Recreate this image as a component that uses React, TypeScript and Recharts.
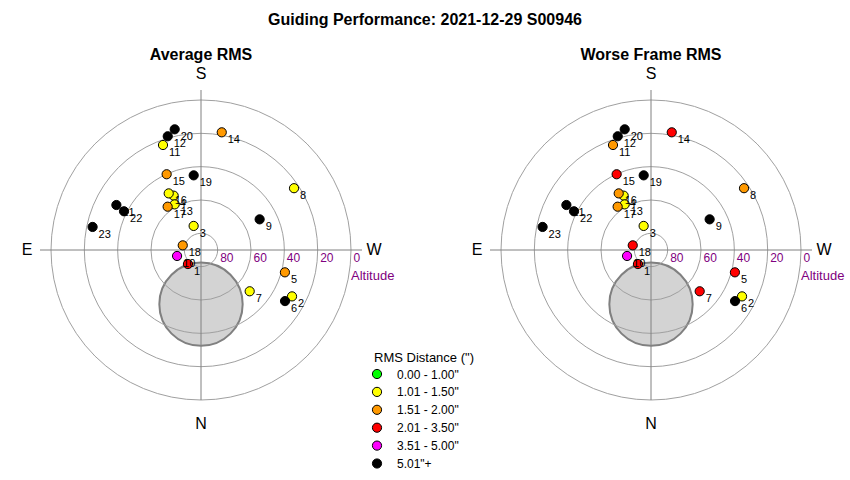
import React from 'react';
import { ScatterChart, Scatter, XAxis, YAxis } from 'recharts';

// ---- data ----
const FRAME_IDS = [1, 2, 3, 4, 5, 6, 7, 8, 9, 10, 11, 12, 13, 14, 15, 16, 17, 18, 19, 20, 21, 22, 23];
const ALTITUDE = [78.5, 28.7, 74.9, 53.5, 37.9, 31.0, 51.7, 23.0, 50.3, 75.2, 23.0, 18.9, 58.4, 18.3, 40.1, 50.9, 57.2, 78.7, 45.0, 15.9, 32.5, 38.3, 23.5];
const AZIMUTH = [42.9, 297.0, 163.0, 153.3, 284.9, 301.3, 310.3, 236.4, 242.4, 76.0, 160.1, 163.7, 150.0, 190.0, 155.6, 150.3, 142.4, 104.3, 174.4, 167.7, 118.0, 116.7, 102.0];
// RMS class index (into RMS_BINS) per frame
const AVG_RMS_CLASS = [3, 1, 1, 1, 2, 5, 1, 1, 5, 4, 1, 5, 1, 2, 2, 1, 2, 2, 5, 5, 5, 5, 5];
const WORST_RMS_CLASS = [3, 1, 1, 1, 3, 5, 3, 2, 5, 4, 2, 5, 1, 3, 3, 2, 2, 3, 5, 5, 5, 5, 5];

const RMS_BINS = ['0.00 - 1.00"', '1.01 - 1.50"', '1.51 - 2.00"', '2.01 - 3.50"', '3.51 - 5.00"', '5.01"+'];
const BIN_COLORS = ['#00ff00', '#ffff00', '#ff9900', '#ff0000', '#ff00ff', '#000000'];

const ALT_RINGS = [80, 60, 40, 20, 0];
const ALT_TICKS = [80, 60, 40, 20, 0];
const OBSTRUCTION_ALT = [57.5];
const OBSTRUCTION_AZ = [0];
const OBSTRUCTION_RADIUS = [25];

// ---- layout ----
const CHART_W = 400;
const CHART_H = 480;
const DOMAIN = 105;
const PLOT = 350;
const PX = PLOT / (2 * DOMAIN);
const MARGIN = { top: 75, right: 24, bottom: 55, left: 26 };
const FONT = '"Liberation Sans", Arial, Helvetica, sans-serif';
const PURPLE = '#800080';

const toXY = (alt: number, az: number) => {
  const zd = 90 - alt;
  const a = (az * Math.PI) / 180;
  return { x: -zd * Math.sin(a), y: -zd * Math.cos(a) };
};

const ringData = ALT_RINGS.map((alt) => ({ x: 0, y: 0, zd: 90 - alt }));
const tickData = ALT_TICKS.map((alt) => ({ x: 90 - alt, y: 0, label: String(alt) }));
const obstructionData = OBSTRUCTION_ALT.map((alt, i) => ({
  ...toXY(alt, OBSTRUCTION_AZ[i]),
  rad: OBSTRUCTION_RADIUS[i],
}));
const hLine = [{ x: -96.6, y: 0 }, { x: 96.6, y: 0 }];
const vLine = [{ x: 0, y: 96 }, { x: 0, y: -90 }];

const makePoints = (classes: number[]) =>
  FRAME_IDS.map((id, i) => ({
    ...toXY(ALTITUDE[i], AZIMUTH[i]),
    id,
    color: BIN_COLORS[classes[i]],
  }));

const RingShape = (p: any) => (
  <circle cx={p.cx} cy={p.cy} r={p.payload.zd * PX} fill="none" stroke="#a0a0a0" strokeWidth={1} />
);
const ObstructionShape = (p: any) => (
  <circle cx={p.cx} cy={p.cy} r={p.payload.rad * PX} fill="#d3d3d3" stroke="#808080" strokeWidth={2} />
);
const TickShape = (p: any) => (
  <text x={p.cx + 2.5} y={p.cy + 11.5} fill={PURPLE} fontSize={12} fontFamily={FONT}>
    {p.payload.label}
  </text>
);
const PointShape = (p: any) => (
  <g>
    <circle cx={p.cx} cy={p.cy} r={4.6} fill={p.payload.color} stroke="#000" strokeWidth={1} />
    <text x={p.cx + 6} y={p.cy + 11} fill="#000" fontSize={11} fontFamily={FONT}>
      {p.payload.id}
    </text>
  </g>
);
const Empty = () => <g />;

function Panel({ classes, left }: { classes: number[]; left: number }) {
  const pts = makePoints(classes);
  return (
    <div style={{ position: 'absolute', left, top: 0, width: CHART_W, height: CHART_H }}>
      <ScatterChart width={CHART_W} height={CHART_H} margin={MARGIN}>
        <XAxis type="number" dataKey="x" domain={[-DOMAIN, DOMAIN]} hide height={0} />
        <YAxis type="number" dataKey="y" domain={[-DOMAIN, DOMAIN]} hide width={0} />
        <Scatter data={obstructionData} shape={ObstructionShape} isAnimationActive={false} />
        <Scatter data={ringData} shape={RingShape} isAnimationActive={false} />
        <Scatter data={hLine} shape={Empty} line={{ stroke: '#808080', strokeWidth: 1 }} isAnimationActive={false} />
        <Scatter data={vLine} shape={Empty} line={{ stroke: '#808080', strokeWidth: 1 }} isAnimationActive={false} />
        <Scatter data={tickData} shape={TickShape} isAnimationActive={false} />
        <Scatter data={pts} shape={PointShape} isAnimationActive={false} />
      </ScatterChart>
    </div>
  );
}

function Compass({ cx }: { cx: number }) {
  const st = { fontFamily: FONT, fontSize: 16, fill: '#000' } as const;
  return (
    <g>
      <text x={cx} y={79} textAnchor="middle" {...st}>S</text>
      <text x={cx} y={429} textAnchor="middle" {...st}>N</text>
      <text x={cx - 174} y={255} textAnchor="middle" {...st}>E</text>
      <text x={cx + 173} y={255} textAnchor="middle" {...st}>W</text>
      <text x={cx + 150} y={280} fill={PURPLE} fontFamily={FONT} fontSize={13}>Altitude</text>
    </g>
  );
}

export default function App() {
  return (
    <div style={{ position: 'absolute', left: 0, top: 0, width: 850, height: 480, background: '#fff', overflow: 'hidden' }}>
      <Panel classes={AVG_RMS_CLASS} left={0} />
      <Panel classes={WORST_RMS_CLASS} left={450} />
      <svg width={850} height={480} style={{ position: 'absolute', left: 0, top: 0, pointerEvents: 'none' }}>
        <text x={425} y={25} textAnchor="middle" fontFamily={FONT} fontSize={16} fontWeight="bold">
          Guiding Performance: 2021-12-29 S00946
        </text>
        <text x={201} y={60} textAnchor="middle" fontFamily={FONT} fontSize={16} fontWeight="bold">Average RMS</text>
        <text x={651} y={60} textAnchor="middle" fontFamily={FONT} fontSize={16} fontWeight="bold">Worse Frame RMS</text>
        <Compass cx={201} />
        <Compass cx={651} />
        <text x={374} y={362} fontFamily={FONT} fontSize={13}>RMS Distance (")</text>
        {RMS_BINS.map((b, i) => (
          <g key={b}>
            <circle cx={377} cy={374 + i * 17.9} r={4.6} fill={BIN_COLORS[i]} stroke="#000" strokeWidth={1} />
            <text x={397} y={378.5 + i * 17.9} fontFamily={FONT} fontSize={12}>{b}</text>
          </g>
        ))}
      </svg>
    </div>
  );
}
